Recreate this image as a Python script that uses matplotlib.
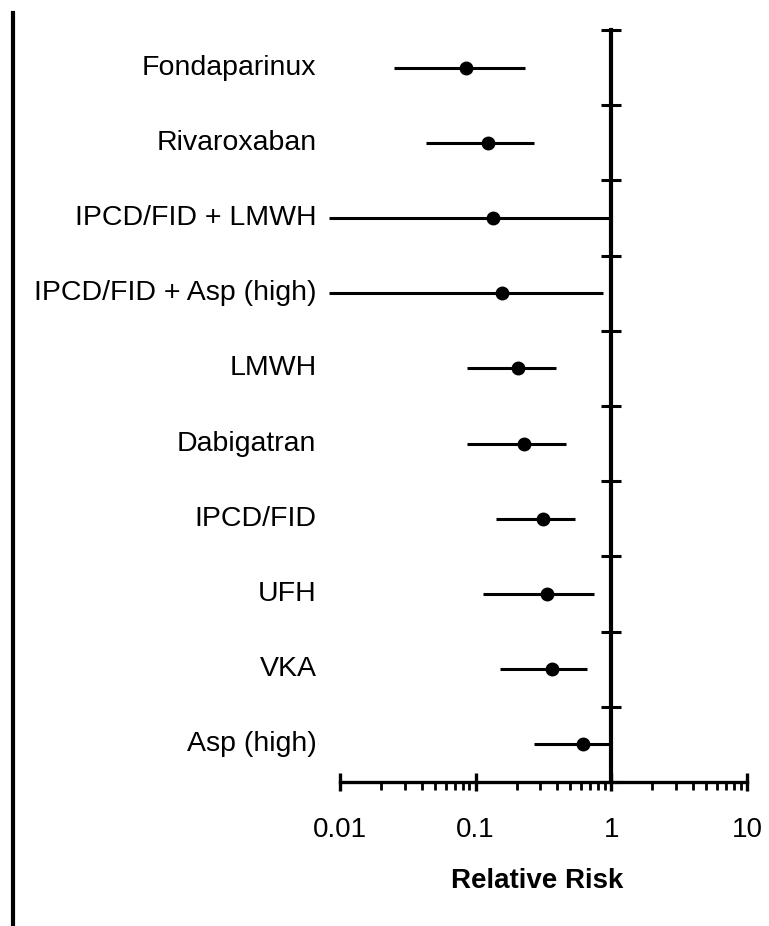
import numpy as np
import matplotlib.pyplot as plt
from matplotlib.lines import Line2D
from matplotlib.ticker import LogLocator, NullFormatter, FixedLocator

plt.rcParams['font.family'] = ['Liberation Sans', 'DejaVu Sans']

# data (top to bottom)
treatments = ['Fondaparinux', 'Rivaroxaban', 'IPCD/FID + LMWH', 'IPCD/FID + Asp (high)',
              'LMWH', 'Dabigatran', 'IPCD/FID', 'UFH', 'VKA', 'Asp (high)']
rr = [0.085, 0.124, 0.135, 0.157, 0.206, 0.229, 0.312, 0.337, 0.365, 0.62]
ci_low = [0.025, 0.043, 0.0083, 0.0083, 0.087, 0.087, 0.142, 0.114, 0.15, 0.27]
ci_high = [0.232, 0.27, 1.0, 0.87, 0.39, 0.46, 0.537, 0.75, 0.665, 1.0]
xticks = [0.01, 0.1, 1, 10]
xticklabels = ['0.01', '0.1', '1', '10']

rr = np.array(rr)
lo = np.array(ci_low)
hi = np.array(ci_high)
y = np.arange(len(treatments)) + 0.5

fig = plt.figure(figsize=(7.69, 9.26), dpi=100)
ax = fig.add_axes([0.4148, 0.1555, 0.5566, 0.812])

ax.errorbar(rr, y, xerr=[rr - lo, hi - rr], fmt='o', color='k', ecolor='k',
            elinewidth=2.2, capsize=0, markersize=9, zorder=3, clip_on=False)

ax.set_xscale('log')
ax.set_xlim(0.007, 10)
ax.set_ylim(len(treatments), 0)

# spines
for s in ['top', 'right']:
    ax.spines[s].set_visible(False)
ax.spines['left'].set_position(('data', 1))
ax.spines['left'].set_linewidth(3)
ax.spines['bottom'].set_linewidth(2.4)
ax.spines['bottom'].set_bounds(0.01, 10)

# y ticks at row boundaries on the x=1 line
ax.yaxis.set_major_locator(FixedLocator(np.arange(len(treatments) + 1)))
ax.tick_params(axis='y', direction='inout', length=14, width=2.2, labelleft=False)

# x ticks
ax.xaxis.set_major_locator(FixedLocator(xticks))
ax.set_xticklabels(xticklabels)
ax.xaxis.set_minor_locator(LogLocator(base=10, subs=np.arange(2, 10), numticks=20))
ax.xaxis.set_minor_formatter(NullFormatter())
ax.tick_params(axis='x', which='major', direction='inout', length=13, width=2.4,
               labelsize=20, pad=19)
ax.tick_params(axis='x', which='minor', direction='out', length=6, width=2)
ax.set_xticks([t for t in ax.xaxis.get_minorticklocs() if 0.01 < t < 10], minor=True)

ax.set_xlabel('Relative Risk', fontsize=20, fontweight='bold')
ax.xaxis.set_label_coords(0.509, -0.114)

# row labels
trans = ax.get_yaxis_transform()
for yi, name in zip(y, treatments):
    ax.text(-0.006, yi, name, transform=trans, ha='right', va='center', fontsize=20.5)

# left border line
fig.add_artist(Line2D([0.0169, 0.0169], [0.986, 0.001], transform=fig.transFigure,
                      color='k', lw=3))

fig.savefig('out.png', dpi=100)
